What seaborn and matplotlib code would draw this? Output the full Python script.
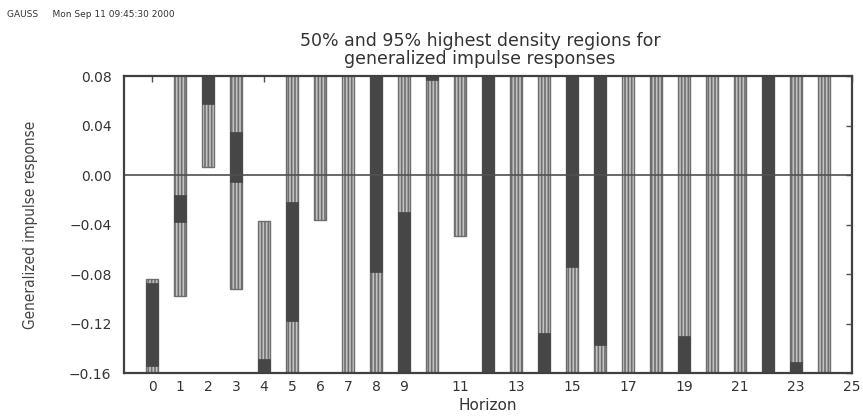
import numpy as np
import matplotlib
matplotlib.use("Agg")
import matplotlib.pyplot as plt
import seaborn as sns

# ── data ──────────────────────────────────────────────────────────────────────
horizon = list(range(25))

# 95% highest density region (values outside the frame are estimates)
hdr95_hi = [-0.084, 0.11, 0.12, 0.10, -0.037, 0.12, 0.10, 0.13, 0.14, 0.12,
            0.13, 0.09, 0.16, 0.13, 0.12, 0.15, 0.16, 0.13, 0.14, 0.13,
            0.14, 0.13, 0.16, 0.14, 0.14]
hdr95_lo = [-0.20, -0.098, 0.0065, -0.092, -0.20, -0.21, -0.036, -0.22, -0.25, -0.23,
            -0.24, -0.049, -0.27, -0.25, -0.24, -0.27, -0.25, -0.26, -0.27, -0.25,
            -0.26, -0.27, -0.28, -0.26, -0.27]

# 50% highest density region
hdr50_hi = [-0.087, -0.016, 0.10, 0.035, -0.149, -0.022, 0.12, 0.12, 0.11, -0.030,
            0.11, 0.085, 0.12, -0.19, -0.128, 0.11, 0.12, 0.12, -0.19, -0.130,
            0.12, 0.11, 0.12, -0.151, -0.19]
hdr50_lo = [-0.154, -0.038, 0.057, -0.006, -0.18, -0.118, 0.09, 0.09, -0.078, -0.18,
            0.077, 0.082, -0.20, -0.21, -0.19, -0.074, -0.137, 0.09, -0.21, -0.20,
            0.09, 0.09, -0.22, -0.20, -0.21]

xtick_labels = ["0", "1", "2", "3", "4", "5", "6", "7", "8", "9", "", "11", "", "13", "",
                "15", "", "17", "", "19", "", "21", "", "23", "", "25"]
yticks = [-0.16, -0.12, -0.08, -0.04, 0.00, 0.04, 0.08]

# ── plot ──────────────────────────────────────────────────────────────────────
sns.set_style("white")
plt.rcParams["font.family"] = ["DejaVu Sans"]
plt.rcParams["hatch.linewidth"] = 1.2

fig = plt.figure(figsize=(8.63, 4.17), dpi=100)
ax = fig.add_axes([0.1437, 0.1055, 0.8436, 0.7122])

dark = "#464646"
width = 0.43

lo95 = np.array(hdr95_lo)
hi95 = np.array(hdr95_hi)
lo50 = np.array(hdr50_lo)
hi50 = np.array(hdr50_hi)

ax.bar(horizon, hi95 - lo95, bottom=lo95, width=width, color="#c4c4c4",
       edgecolor="#6e6e6e", hatch="|||||", linewidth=1.0, zorder=2)
ax.bar(horizon, hi50 - lo50, bottom=lo50, width=width, color=dark,
       edgecolor=dark, linewidth=0.5, zorder=3)

ax.axhline(0, color="#505050", linewidth=1.2, zorder=4)

ax.set_xlim(-1, 25)
ax.set_ylim(-0.16, 0.08)
ax.set_xticks(range(26))
ax.set_xticklabels(xtick_labels)
ax.set_yticks(yticks)
ax.set_yticklabels([f"{v:.2f}".replace("-", "\u2212") for v in yticks])
ax.tick_params(axis="both", direction="in", length=4, width=1, color="#505050",
               labelsize=10, labelcolor="#333333", top=True, right=True,
               labeltop=False, labelright=False)
ax.tick_params(axis="x", pad=5)
ax.tick_params(axis="y", pad=9)
for s in ax.spines.values():
    s.set_color("#404040")
    s.set_linewidth(1.6)
    s.set_zorder(5)

ax.set_xlabel("Horizon", fontsize=11, color="#333333", labelpad=3)
ax.set_ylabel("Generalized impulse response", fontsize=11, color="#444444",
              fontstretch="condensed", labelpad=22)

fig.text(0.556, 0.88, "50% and 95% highest density regions for\ngeneralized impulse responses",
         ha="center", va="center", fontsize=12.5, color="#333333", linespacing=0.95)
fig.text(0.008, 0.966, "GAUSS     Mon Sep 11 09:45:30 2000", ha="left", va="center",
         fontsize=6.5, color="#333333")

fig.savefig("out.png", dpi=100)
